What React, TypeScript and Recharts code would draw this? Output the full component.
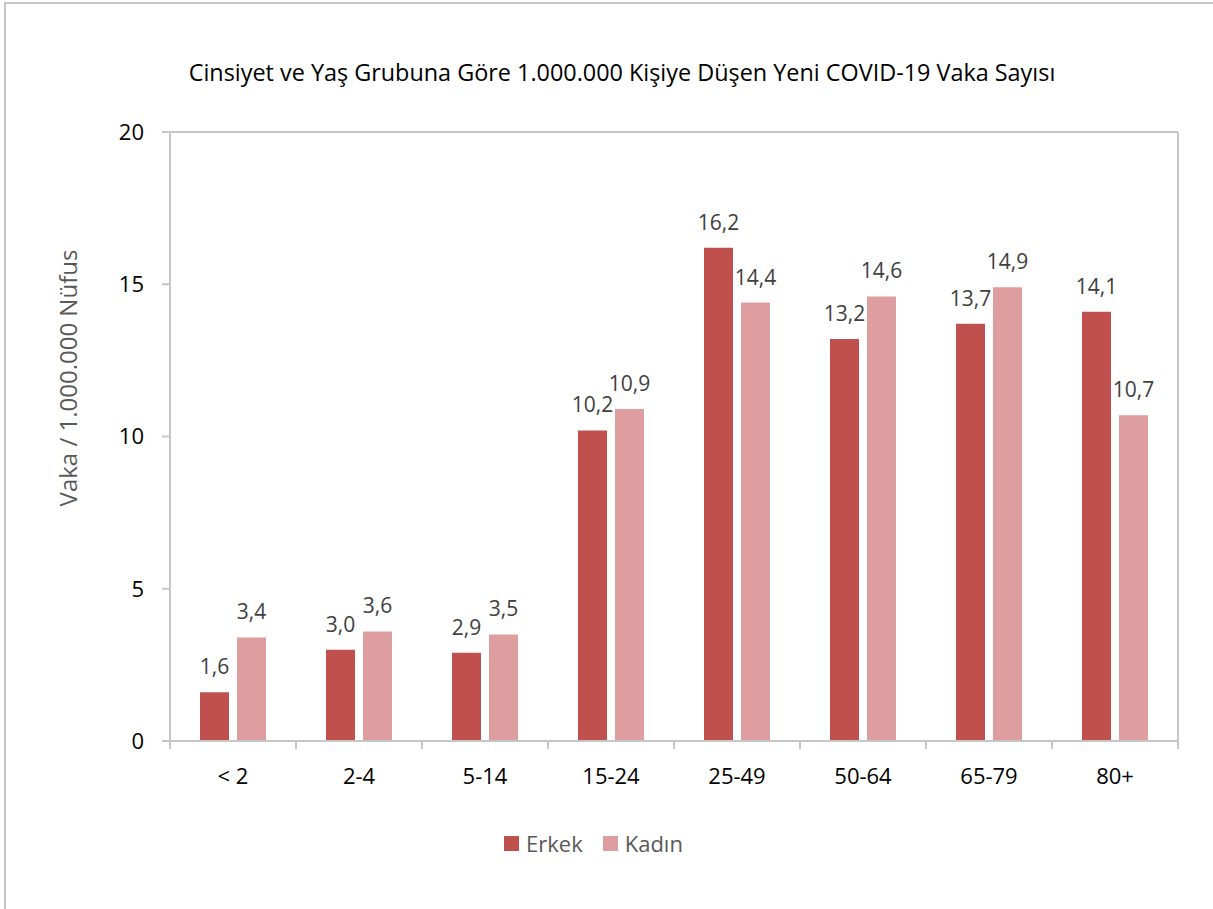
import { Bar, BarChart, LabelList, ReferenceLine, XAxis, YAxis } from "recharts";

const gruplar = ["< 2", "2-4", "5-14", "15-24", "25-49", "50-64", "65-79", "80+"];
const erkek = [1.6, 3.0, 2.9, 10.2, 16.2, 13.2, 13.7, 14.1];
const kadin = [3.4, 3.6, 3.5, 10.9, 14.4, 14.6, 14.9, 10.7];
const yTikler = [0, 5, 10, 15, 20];

const W = 1213;
const H = 909;
const M = { top: 132, right: 0, left: 60, bottom: 118 };
const Y_W = 110;
const R_W = 35;
const PLOT_W = W - M.left - Y_W - R_W;
const HALF_BAND = PLOT_W / gruplar.length / 2;

const FONT = "'Open Sans', sans-serif";
const EKSEN = "#c6c6c6";
const RENK_ERKEK = "#c0504d";
const RENK_KADIN = "#de9e9f";

const data = gruplar.map((g, i) => ({ grup: g, erkek: erkek[i], kadin: kadin[i] }));
const fmt = (v: number) => v.toFixed(1).replace(".", ",");

function XTick(props: any) {
  const { x, y, payload, index } = props;
  const last = index === gruplar.length - 1;
  return (
    <g>
      <line x1={x - HALF_BAND} y1={y} x2={x - HALF_BAND} y2={y + 8} stroke={EKSEN} strokeWidth={2} />
      {last && <line x1={x + HALF_BAND} y1={y} x2={x + HALF_BAND} y2={y + 8} stroke={EKSEN} strokeWidth={2} />}
      <text x={x} y={y + 43} textAnchor="middle" fill="#000" fontSize={22} fontFamily={FONT}>
        {payload.value}
      </text>
    </g>
  );
}

function YBaslik(props: any) {
  const vb = props.viewBox;
  const cx = vb.x + 7;
  const cy = 378;
  return (
    <text
      x={cx}
      y={cy}
      transform={`rotate(-90 ${cx} ${cy})`}
      textAnchor="middle"
      dominantBaseline="central"
      fill="#595959"
      fontSize={24}
      fontFamily={FONT}
    >
      Vaka / 1.000.000 Nüfus
    </text>
  );
}

export default function App() {
  return (
    <div style={{ position: "absolute", left: 0, top: 0, width: W, height: H, overflow: "hidden", background: "#fff" }}>
      <div
        style={{
          position: "absolute",
          left: 4,
          top: 2,
          width: W + 50,
          height: H + 50,
          borderLeft: `2px solid ${EKSEN}`,
          borderTop: `2px solid ${EKSEN}`,
        }}
      />
      <div
        style={{
          position: "absolute",
          left: 0,
          width: 1244,
          top: 56,
          textAlign: "center",
          fontFamily: FONT,
          fontSize: 23.4,
          color: "#000",
          lineHeight: "32px",
        }}
      >
        Cinsiyet ve Yaş Grubuna Göre 1.000.000 Kişiye Düşen Yeni COVID-19 Vaka Sayısı
      </div>
      <div style={{ position: "absolute", left: 0, top: 0 }}>
        <BarChart width={W} height={H} data={data} margin={M} barCategoryGap={30} barGap={8}>
          <XAxis
            dataKey="grup"
            height={50}
            axisLine={{ stroke: EKSEN, strokeWidth: 2 }}
            tickLine={false}
            tickSize={0}
            tickMargin={0}
            tick={<XTick />}
            interval={0}
          />
          <YAxis
            width={Y_W}
            domain={[0, 20]}
            ticks={yTikler}
            axisLine={{ stroke: EKSEN, strokeWidth: 2 }}
            tickLine={{ stroke: EKSEN, strokeWidth: 2 }}
            tickSize={8}
            tickMargin={18}
            tick={{ fill: "#000", fontSize: 22, fontFamily: FONT }}
            label={YBaslik}
          />
          <YAxis
            yAxisId="sag"
            orientation="right"
            width={R_W}
            domain={[0, 20]}
            tick={false}
            tickLine={false}
            axisLine={{ stroke: EKSEN, strokeWidth: 2 }}
          />
          <ReferenceLine y={20} stroke={EKSEN} strokeWidth={2} />
          <Bar dataKey="erkek" fill={RENK_ERKEK} isAnimationActive={false}>
            <LabelList dataKey="erkek" position="top" offset={18} formatter={(v: any) => fmt(Number(v))} fill="#404040" fontSize={21} fontFamily={FONT} />
          </Bar>
          <Bar dataKey="kadin" fill={RENK_KADIN} isAnimationActive={false}>
            <LabelList dataKey="kadin" position="top" offset={18} formatter={(v: any) => fmt(Number(v))} fill="#404040" fontSize={21} fontFamily={FONT} />
          </Bar>
        </BarChart>
      </div>
      <div
        style={{
          position: "absolute",
          left: 504,
          top: 827,
          display: "flex",
          alignItems: "center",
          fontFamily: FONT,
          fontSize: 22,
          color: "#595959",
          lineHeight: "32px",
        }}
      >
        <span style={{ width: 15, height: 15, background: RENK_ERKEK, display: "inline-block", marginRight: 7 }} />
        <span style={{ marginRight: 20 }}>Erkek</span>
        <span style={{ width: 15, height: 15, background: RENK_KADIN, display: "inline-block", marginRight: 7 }} />
        <span>Kadın</span>
      </div>
    </div>
  );
}
